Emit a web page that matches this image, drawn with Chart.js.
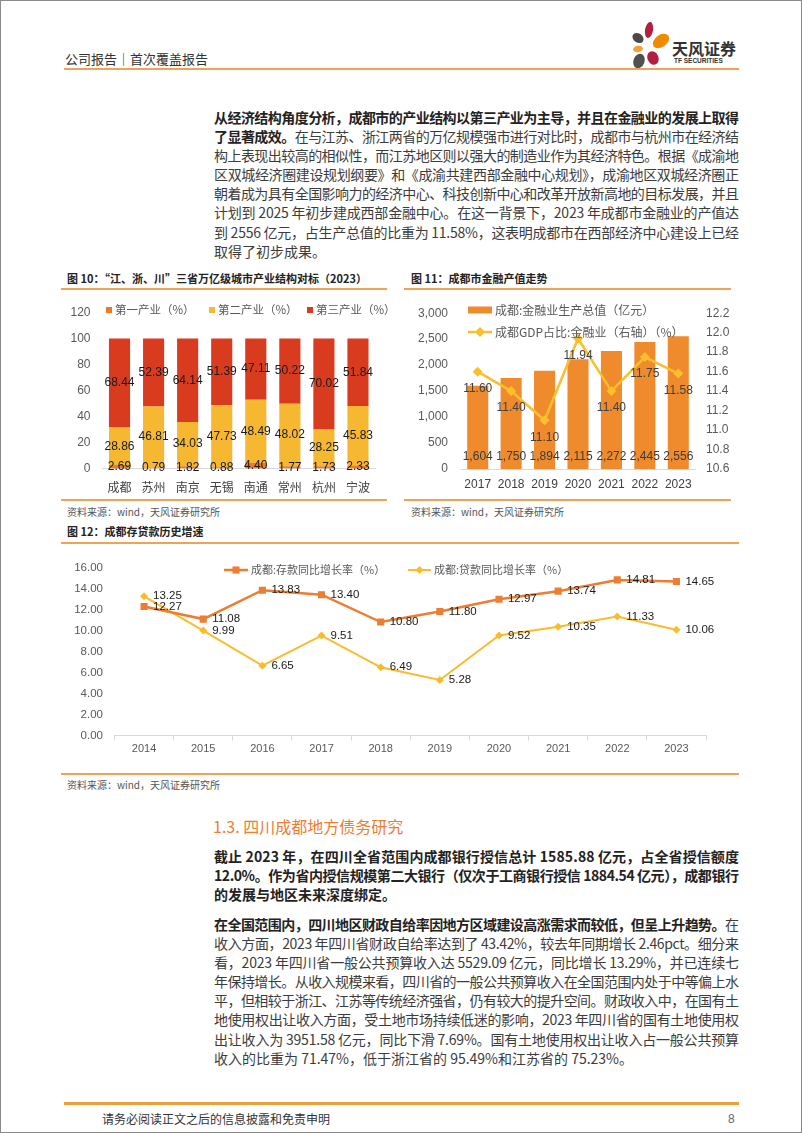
<!DOCTYPE html>
<html>
<head>
<meta charset="utf-8">
<script src="https://cdn.jsdelivr.net/npm/chart.js@4.4.1/dist/chart.umd.min.js"></script>
<style>
  html, body { margin: 0; padding: 0; background: #fff; }
  #page { position: relative; width: 802px; height: 1133px; border: 1px solid #8a8a8a; box-sizing: border-box; overflow: hidden;
          font-family: "Noto Sans CJK SC", "Noto Sans", sans-serif; color: #3c3c3c; }
  .abs { position: absolute; white-space: nowrap; }
  .rule { position: absolute; height: 2px; background: #EFA455; }
  .para { position: absolute; left: 213px; width: 525px; font-size: 14px; line-height: 19.2px; }
  .para div { height: 19.2px; white-space: nowrap; }
  .para b { color: #222; font-weight: 700; }
  .figtitle { position: absolute; font-size: 11px; font-weight: 700; color: #222; line-height: 14px; }
  .source { position: absolute; font-size: 10px; color: #555; line-height: 12px; }
  canvas { position: absolute; }
</style>
</head>
<body>
<div id="page">
  <!-- header -->
  <div class="abs" style="left:64px; top:50px; font-size:13px; line-height:16px; color:#333;">公司报告｜首次覆盖报告</div>
  <svg class="abs" style="left:600px; top:15px;" width="80" height="60" viewBox="600 15 80 60">
    <ellipse cx="637" cy="37" rx="6" ry="4.5" fill="#4a4a4a" transform="rotate(35 637 37)"/>
    <ellipse cx="648" cy="29" rx="4" ry="8" fill="#B3203F" transform="rotate(10 648 29)"/>
    <ellipse cx="660" cy="40" rx="9" ry="6" fill="#F08A00" transform="rotate(-35 660 40)"/>
    <ellipse cx="637" cy="48" rx="5" ry="3.2" fill="#F2A232" transform="rotate(-10 637 48)"/>
    <ellipse cx="638" cy="60" rx="5.5" ry="7.5" fill="#505050" transform="rotate(20 638 60)"/>
    <ellipse cx="652" cy="57" rx="5.5" ry="7" fill="#B3203F" transform="rotate(-25 652 57)"/>
  </svg>
  <div class="abs" style="left:671px; top:37px; font-size:16px; line-height:20px; font-weight:700; color:#333;">天风证券</div>
  <div class="abs" style="left:673px; top:56px; font-size:6.5px; line-height:8px; font-weight:700; color:#333; font-family:'Liberation Sans',Arial,sans-serif;">TF SECURITIES</div>
  <div class="rule" style="left:63px; top:67px; width:675px;"></div>

  <!-- paragraph 1 -->
  <div class="para" style="top:106.5px;">
    <div class="j"><b>从经济结构角度分析，成都市的产业结构以第三产业为主导，并且在金融业的发展上取得</b></div>
    <div class="j"><b>了显著成效。</b>在与江苏、浙江两省的万亿规模强市进行对比时，成都市与杭州市在经济结</div>
    <div class="j">构上表现出较高的相似性，而江苏地区则以强大的制造业作为其经济特色。根据《成渝地</div>
    <div class="j">区双城经济圈建设规划纲要》和《成渝共建西部金融中心规划》，成渝地区双城经济圈正</div>
    <div class="j">朝着成为具有全国影响力的经济中心、科技创新中心和改革开放新高地的目标发展，并且</div>
    <div class="j">计划到 2025 年初步建成西部金融中心。在这一背景下，2023 年成都市金融业的产值达</div>
    <div class="j">到 2556 亿元，占生产总值的比重为 11.58%，这表明成都市在西部经济中心建设上已经</div>
    <div>取得了初步成果。</div>
  </div>

  <!-- figure 10 / 11 frames -->
  <div class="figtitle" style="left:66px; top:270px;">图 10：“江、浙、川”三省万亿级城市产业结构对标（2023）</div>
  <div class="rule" style="left:60px; top:287px; width:326px;"></div>
  <div class="figtitle" style="left:410px; top:270px;">图 11：成都市金融产值走势</div>
  <div class="rule" style="left:403px; top:287px; width:327px;"></div>
  <canvas id="chartStructure" style="left:63px; top:292px;" width="334" height="205"></canvas>
  <canvas id="chartFinance" style="left:403px; top:292px;" width="327" height="205"></canvas>
  <div class="rule" style="left:60px; top:498px; width:326px;"></div>
  <div class="rule" style="left:403px; top:498px; width:327px;"></div>
  <div class="source" style="left:66px; top:505px;">资料来源：wind，天风证券研究所</div>
  <div class="source" style="left:410px; top:505px;">资料来源：wind，天风证券研究所</div>

  <!-- figure 12 -->
  <div class="figtitle" style="left:66px; top:523px;">图 12：成都存贷款历史增速</div>
  <div class="rule" style="left:60px; top:541px; width:678px;"></div>
  <canvas id="chartDeposit" style="left:60px; top:548px;" width="678" height="222"></canvas>
  <div class="rule" style="left:60px; top:772px; width:678px;"></div>
  <div class="source" style="left:66px; top:778px;">资料来源：wind，天风证券研究所</div>

  <!-- section 1.3 -->
  <div class="abs" style="left:212px; top:814px; font-size:16px; line-height:22px; color:#EE7D31;">1.3. 四川成都地方债务研究</div>
  <div class="para" style="top:845.5px;">
    <div class="j"><b>截止 2023 年，在四川全省范围内成都银行授信总计 1585.88 亿元，占全省授信额度</b></div>
    <div class="j"><b>12.0%。作为省内授信规模第二大银行（仅次于工商银行授信 1884.54 亿元），成都银行</b></div>
    <div><b>的发展与地区未来深度绑定。</b></div>
  </div>
  <div class="para" style="top:913.5px;">
    <div class="j"><b>在全国范围内，四川地区财政自给率因地方区域建设高涨需求而较低，但呈上升趋势。</b>在</div>
    <div class="j">收入方面，2023 年四川省财政自给率达到了 43.42%，较去年同期增长 2.46pct。细分来</div>
    <div class="j">看，2023 年四川省一般公共预算收入达 5529.09 亿元，同比增长 13.29%，并已连续七</div>
    <div class="j">年保持增长。从收入规模来看，四川省的一般公共预算收入在全国范围内处于中等偏上水</div>
    <div class="j">平，但相较于浙江、江苏等传统经济强省，仍有较大的提升空间。财政收入中，在国有土</div>
    <div class="j">地使用权出让收入方面，受土地市场持续低迷的影响，2023 年四川省的国有土地使用权</div>
    <div class="j">出让收入为 3951.58 亿元，同比下滑 7.69%。国有土地使用权出让收入占一般公共预算</div>
    <div>收入的比重为 71.47%，低于浙江省的 95.49%和江苏省的 75.23%。</div>
  </div>

  <!-- footer -->
  <div class="rule" style="left:63px; top:1101px; width:675px; height:3px; background:#E9A23B;"></div>
  <div class="abs" style="left:101px; top:1110px; font-size:12px; line-height:16px; color:#333;">请务必阅读正文之后的信息披露和免责申明</div>
  <div class="abs" style="left:727px; top:1110px; font-size:12px; line-height:16px; color:#666; font-family:'Liberation Sans',Arial,sans-serif;">8</div>
</div>

<script>
// 图10 数据
const cities = ['成都', '苏州', '南京', '无锡', '南通', '常州', '杭州', '宁波'];
const primaryShare = [2.69, 0.79, 1.82, 0.88, 4.40, 1.77, 1.73, 2.33];
const secondaryShare = [28.86, 46.81, 34.03, 47.73, 48.49, 48.02, 28.25, 45.83];
const tertiaryShare = [68.44, 52.39, 64.14, 51.39, 47.11, 50.22, 70.02, 51.84];

// 图11 数据
const financeYears = ['2017', '2018', '2019', '2020', '2021', '2022', '2023'];
const financeOutput = [1604, 1750, 1894, 2115, 2272, 2445, 2556];
const financeGdpShare = [11.60, 11.40, 11.10, 11.94, 11.40, 11.75, 11.58];

// 图12 数据
const loanYears = ['2014', '2015', '2016', '2017', '2018', '2019', '2020', '2021', '2022', '2023'];
const depositGrowth = [12.27, 11.08, 13.83, 13.40, 10.80, 11.80, 12.97, 13.74, 14.81, 14.65];
const loanGrowth = [13.25, 9.99, 6.65, 9.51, 6.49, 5.28, 9.52, 10.35, 11.33, 10.06];

const NUM_FONT = '"Liberation Sans", Arial, sans-serif';
const CJK_FONT = '"Noto Sans CJK SC", "Noto Sans", sans-serif';

// full-justify each body line to the 525px text column (the PDF squeezes punctuation)
document.querySelectorAll('.para div.j').forEach(line => {
    const range = document.createRange();
    range.selectNodeContents(line);
    const natural = range.getBoundingClientRect().width;
    const n = line.textContent.length;
    line.style.letterSpacing = ((525 - natural) / (n - 1)) + 'px';
});

function drawMarker(ctx, style, x, y, r, color) {
    ctx.fillStyle = color;
    ctx.beginPath();
    if (style === 'rect') {
        const s = r * Math.SQRT1_2;
        ctx.rect(x - s, y - s, 2 * s, 2 * s);
    } else {
        ctx.moveTo(x - r, y);
        ctx.lineTo(x, y - r);
        ctx.lineTo(x + r, y);
        ctx.lineTo(x, y + r);
        ctx.closePath();
    }
    ctx.fill();
}

// value labels drawn from each dataset's own values
const valueLabels = {
    id: 'valueLabels',
    afterDatasetsDraw(chart) {
        const ctx = chart.ctx;
        chart.data.datasets.forEach((ds, i) => {
            const cfg = ds.valueLabel;
            if (!cfg) return;
            const meta = chart.getDatasetMeta(i);
            meta.data.forEach((el, j) => {
                let x = el.x;
                let y = el.y;
                if (cfg.pos === 'center') y = (el.y + el.base) / 2;
                if (cfg.pos === 'base') y = el.base;
                ctx.save();
                ctx.font = cfg.font;
                ctx.fillStyle = cfg.color;
                ctx.textAlign = cfg.align || 'center';
                ctx.textBaseline = 'middle';
                ctx.fillText(cfg.format(ds.data[j]), x + (cfg.dx || 0), y + (cfg.dy || 0));
                ctx.restore();
            });
        });
    }
};

// legend drawn at fixed spots (the reference puts it inside the plot area)
function legendAt(spots) {
    return {
        id: 'legendAt',
        afterDraw(chart) {
            const ctx = chart.ctx;
            chart.data.datasets.forEach((ds, i) => {
                const sp = spots[i];
                if (!sp) return;
                ctx.save();
                if (sp.type === 'box') {
                    ctx.fillStyle = ds.backgroundColor;
                    ctx.fillRect(sp.x, sp.y - sp.h / 2, sp.w, sp.h);
                } else {
                    ctx.strokeStyle = ds.borderColor;
                    ctx.lineWidth = ds.borderWidth;
                    ctx.beginPath();
                    ctx.moveTo(sp.x, sp.y);
                    ctx.lineTo(sp.x + sp.w, sp.y);
                    ctx.stroke();
                    drawMarker(ctx, ds.pointStyle, sp.x + sp.w / 2, sp.y, ds.pointRadius, ds.borderColor);
                }
                ctx.font = sp.font;
                ctx.fillStyle = '#595959';
                ctx.textAlign = 'left';
                ctx.textBaseline = 'middle';
                ctx.fillText(ds.label, sp.x + sp.w + 3, sp.y);
                ctx.restore();
            });
        }
    };
}

// 图10：产业结构
new Chart(document.getElementById('chartStructure'), {
    type: 'bar',
    data: {
        labels: cities,
        datasets: [
            {
                label: '第一产业（%）',
                data: primaryShare,
                backgroundColor: '#EE7B22',
                valueLabel: { pos: 'center', font: '12px ' + NUM_FONT, color: '#1a1a1a', format: v => v.toFixed(2) }
            },
            {
                label: '第二产业（%）',
                data: secondaryShare,
                backgroundColor: '#F6B731',
                valueLabel: { pos: 'center', font: '12px ' + NUM_FONT, color: '#1a1a1a', format: v => v.toFixed(2) }
            },
            {
                label: '第三产业（%）',
                data: tertiaryShare,
                backgroundColor: '#D93B1E',
                valueLabel: { pos: 'center', font: '12px ' + NUM_FONT, color: '#1a1a1a', format: v => v.toFixed(2) }
            }
        ]
    },
    options: {
        responsive: false,
        animation: false,
        layout: { padding: { left: 0, right: 23, top: 19.5, bottom: 0 } },
        datasets: { bar: { barPercentage: 0.62, categoryPercentage: 1 } },
        plugins: { legend: { display: false }, tooltip: { enabled: false } },
        scales: {
            x: {
                stacked: true,
                grid: { display: true, drawOnChartArea: false, drawTicks: false },
                border: { display: true, color: '#d9d9d9' },
                ticks: { padding: 12, color: '#404040', font: { family: CJK_FONT, size: 12 } },
                afterFit: s => { s.height = 29.5; }
            },
            y: {
                stacked: true,
                min: 0,
                max: 120,
                ticks: { stepSize: 20, padding: 12, color: '#595959', font: { family: NUM_FONT, size: 12 } },
                grid: { display: false, drawTicks: false },
                border: { display: false },
                afterFit: s => { s.width = 38.5; }
            }
        }
    },
    plugins: [valueLabels, legendAt([
        { type: 'box', x: 42, y: 17, w: 6, h: 6, font: '11.5px ' + CJK_FONT },
        { type: 'box', x: 145, y: 17, w: 6, h: 6, font: '11.5px ' + CJK_FONT },
        { type: 'box', x: 243, y: 17, w: 6, h: 6, font: '11.5px ' + CJK_FONT }
    ])]
});

// 图11：金融业产值
new Chart(document.getElementById('chartFinance'), {
    type: 'bar',
    data: {
        labels: financeYears,
        datasets: [
            {
                type: 'line',
                label: '成都GDP占比:金融业（右轴）（%）',
                data: financeGdpShare,
                yAxisID: 'y1',
                borderColor: '#F9BF2C',
                backgroundColor: '#F9BF2C',
                borderWidth: 2.5,
                pointStyle: 'rectRot',
                pointRadius: 5,
                pointBackgroundColor: '#F9BF2C',
                pointBorderWidth: 0,
                tension: 0,
                order: 0,
                valueLabel: { pos: 'point', dy: 17, font: '12px ' + NUM_FONT, color: '#404040', format: v => v.toFixed(2) }
            },
            {
                label: '成都:金融业生产总值（亿元）',
                data: financeOutput,
                yAxisID: 'y',
                backgroundColor: '#EF8B2C',
                order: 1,
                valueLabel: { pos: 'base', dy: -12, font: '12px ' + NUM_FONT, color: '#3a3a3a', format: v => v.toLocaleString('en-US') }
            }
        ]
    },
    options: {
        responsive: false,
        animation: false,
        layout: { padding: { left: 0, right: 0, top: 12, bottom: 0 } },
        datasets: { bar: { barPercentage: 0.63, categoryPercentage: 1 } },
        plugins: { legend: { display: false }, tooltip: { enabled: false } },
        scales: {
            x: {
                grid: { display: true, drawOnChartArea: false, drawTicks: false },
                border: { display: true, color: '#d9d9d9' },
                ticks: { padding: 8, color: '#404040', font: { family: NUM_FONT, size: 12 } },
                afterFit: s => { s.height = 29; }
            },
            y: {
                position: 'left',
                min: 0,
                max: 3000,
                ticks: { stepSize: 500, padding: 13, color: '#595959', font: { family: NUM_FONT, size: 12 },
                         callback: v => v.toLocaleString('en-US') },
                grid: { display: false, drawTicks: false },
                border: { display: false },
                afterFit: s => { s.width = 57; }
            },
            y1: {
                position: 'right',
                min: 10.6,
                max: 12.2,
                ticks: { stepSize: 0.2, padding: 11, color: '#595959', font: { family: NUM_FONT, size: 12 },
                         callback: v => v.toFixed(1) },
                grid: { display: false, drawTicks: false },
                border: { display: false },
                afterFit: s => { s.width = 36; }
            }
        }
    },
    plugins: [valueLabels, legendAt([
        { type: 'line', x: 64, y: 39, w: 24, font: '12px ' + CJK_FONT },
        { type: 'box', x: 64, y: 17, w: 24, h: 7, font: '12px ' + CJK_FONT }
    ])]
});

// 图12：存贷款增速
new Chart(document.getElementById('chartDeposit'), {
    type: 'line',
    data: {
        labels: loanYears,
        datasets: [
            {
                label: '成都:存款同比增长率（%）',
                data: depositGrowth,
                borderColor: '#EC7D31',
                backgroundColor: '#EC7D31',
                borderWidth: 2.5,
                pointStyle: 'rect',
                pointRadius: 5,
                pointBackgroundColor: '#EC7D31',
                pointBorderWidth: 0,
                tension: 0,
                valueLabel: { pos: 'point', dx: 9, align: 'left', font: '11.5px ' + NUM_FONT, color: '#1a1a1a', format: v => v.toFixed(2) }
            },
            {
                label: '成都:贷款同比增长率（%）',
                data: loanGrowth,
                borderColor: '#F9BC2C',
                backgroundColor: '#F9BC2C',
                borderWidth: 2,
                pointStyle: 'rectRot',
                pointRadius: 4,
                pointBackgroundColor: '#F9BC2C',
                pointBorderWidth: 0,
                tension: 0,
                valueLabel: { pos: 'point', dx: 9, align: 'left', font: '11.5px ' + NUM_FONT, color: '#1a1a1a', format: v => v.toFixed(2) }
            }
        ]
    },
    options: {
        responsive: false,
        animation: false,
        layout: { padding: { left: 0, right: 33, top: 17, bottom: 0 } },
        plugins: { legend: { display: false }, tooltip: { enabled: false } },
        scales: {
            x: {
                offset: true,
                grid: { display: true, offset: true, drawOnChartArea: false, drawTicks: true, tickLength: 5, color: '#d9d9d9' },
                border: { display: true, color: '#d9d9d9' },
                ticks: { padding: 2, color: '#595959', font: { family: NUM_FONT, size: 11 } },
                afterFit: s => { s.height = 35.5; }
            },
            y: {
                min: 0,
                max: 16,
                ticks: { stepSize: 2, padding: 11.5, color: '#595959', font: { family: NUM_FONT, size: 11.5 },
                         callback: v => v.toFixed(2) },
                grid: { display: false, drawTicks: false },
                border: { display: false },
                afterFit: s => { s.width = 53.5; }
            }
        }
    },
    plugins: [valueLabels, legendAt([
        { type: 'line', x: 163, y: 21, w: 24, font: '11px ' + CJK_FONT },
        { type: 'line', x: 347, y: 21, w: 23, font: '11px ' + CJK_FONT }
    ])]
});
</script>
</body>
</html>
